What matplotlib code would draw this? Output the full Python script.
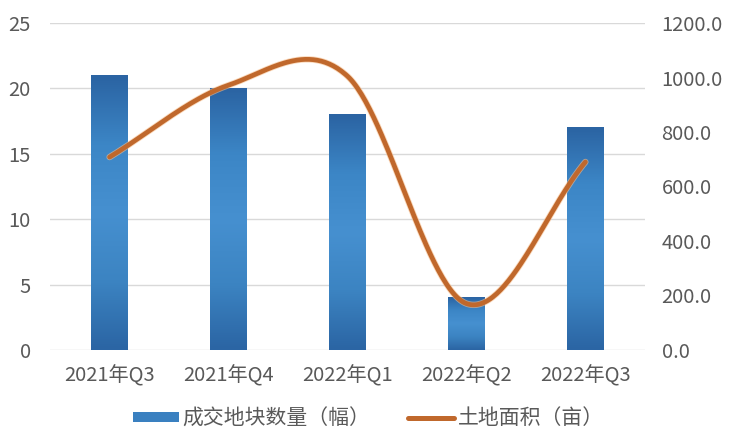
import numpy as np
import matplotlib.pyplot as plt
from matplotlib.colors import LinearSegmentedColormap
from matplotlib.patches import Patch
from matplotlib.lines import Line2D

plt.rcParams['font.family'] = ['Noto Sans CJK SC', 'DejaVu Sans']

# data
quarters = ['2021年Q3', '2021年Q4', '2022年Q1', '2022年Q2', '2022年Q3']
plots_count = [21, 20, 18, 4, 17]          # 成交地块数量（幅）
land_area = [708, 972, 1005, 170, 690]     # 土地面积（亩）

bar_label = '成交地块数量（幅）'
line_label = '土地面积（亩）'

grey = '#595959'
grid_c = '#D9D9D9'
line_c = '#C0682C'


def smooth(xv, yv, n=60):
    # catmull-rom, roughly what excel does for a smoothed line
    xv = np.asarray(xv, float)
    yv = np.asarray(yv, float)
    px = np.concatenate([[2 * xv[0] - xv[1]], xv, [2 * xv[-1] - xv[-2]]])
    py = np.concatenate([[yv[0]], yv, [yv[-1]]])
    outx, outy = [], []
    for i in range(1, len(px) - 2):
        t = np.linspace(0, 1, n)
        mx0 = (px[i + 1] - px[i - 1]) / 2
        mx1 = (px[i + 2] - px[i]) / 2
        my0 = (py[i + 1] - py[i - 1]) / 2 if i > 1 else (py[i + 1] - py[i])
        my1 = (py[i + 2] - py[i]) / 2 if i < len(px) - 3 else (py[i + 1] - py[i])
        h00 = 2 * t**3 - 3 * t**2 + 1
        h10 = t**3 - 2 * t**2 + t
        h01 = -2 * t**3 + 3 * t**2
        h11 = t**3 - t**2
        outx.append(h00 * px[i] + h10 * mx0 + h01 * px[i + 1] + h11 * mx1)
        outy.append(h00 * py[i] + h10 * my0 + h01 * py[i + 1] + h11 * my1)
    return np.concatenate(outx), np.concatenate(outy)


fig = plt.figure(figsize=(7.37, 4.44), dpi=100)
ax = fig.add_axes([0.068, 0.212, 0.807, 0.736])
ax2 = ax.twinx()

x = np.arange(len(quarters))
w = 0.31

ax.grid(axis='y', color=grid_c, linewidth=1.0)
ax.set_axisbelow(True)

bars = ax.bar(x, plots_count, width=w, color='none', zorder=2)
cmap = LinearSegmentedColormap.from_list('bb', ['#2B64A3', '#3C86C6', '#4690D0', '#3C84C2', '#2B65A4'])
grad = np.linspace(0, 1, 100).reshape(-1, 1)
for b in bars:
    bx, by = b.get_x(), b.get_y()
    ax.imshow(grad, cmap=cmap, aspect='auto', interpolation='bicubic',
              extent=[bx, bx + b.get_width(), by, by + b.get_height()],
              origin='upper', zorder=2)
ax.set_xlim(-0.5, len(quarters) - 0.5)
ax.set_ylim(0, 25)
ax.set_yticks(range(0, 26, 5))

sx, sy = smooth(x, land_area)
ax2.plot(sx, sy, color='#F8C08F', linewidth=4.6, alpha=0.6, solid_capstyle='round', zorder=3)
ax2.plot(sx, sy, color=line_c, linewidth=3.4, solid_capstyle='round', zorder=4)
ax2.set_ylim(0, 1200)
ax2.set_yticks(range(0, 1201, 200))
ax2.set_yticklabels([f'{v:.1f}' for v in range(0, 1201, 200)])

ax.set_xticks(x)
ax.set_xticklabels(quarters)
for a in (ax, ax2):
    for s in a.spines.values():
        s.set_visible(False)
    a.tick_params(length=0, colors=grey, labelsize=14.5)
ax.tick_params(axis='x', pad=11)
ax.tick_params(axis='y', pad=14)
ax2.tick_params(axis='y', pad=12)

handles = [Patch(facecolor='#3A80C0', edgecolor='none'),
           Line2D([0], [0], color=line_c, linewidth=3.6, solid_capstyle='round')]
fig.legend(handles, [bar_label, line_label], loc='center', bbox_to_anchor=(0.5, 0.058),
           ncol=2, frameon=False, fontsize=15, labelcolor=grey,
           handlelength=2.2, handleheight=0.4, handletextpad=0.2, columnspacing=1.8)

fig.savefig('out.png', dpi=100)
